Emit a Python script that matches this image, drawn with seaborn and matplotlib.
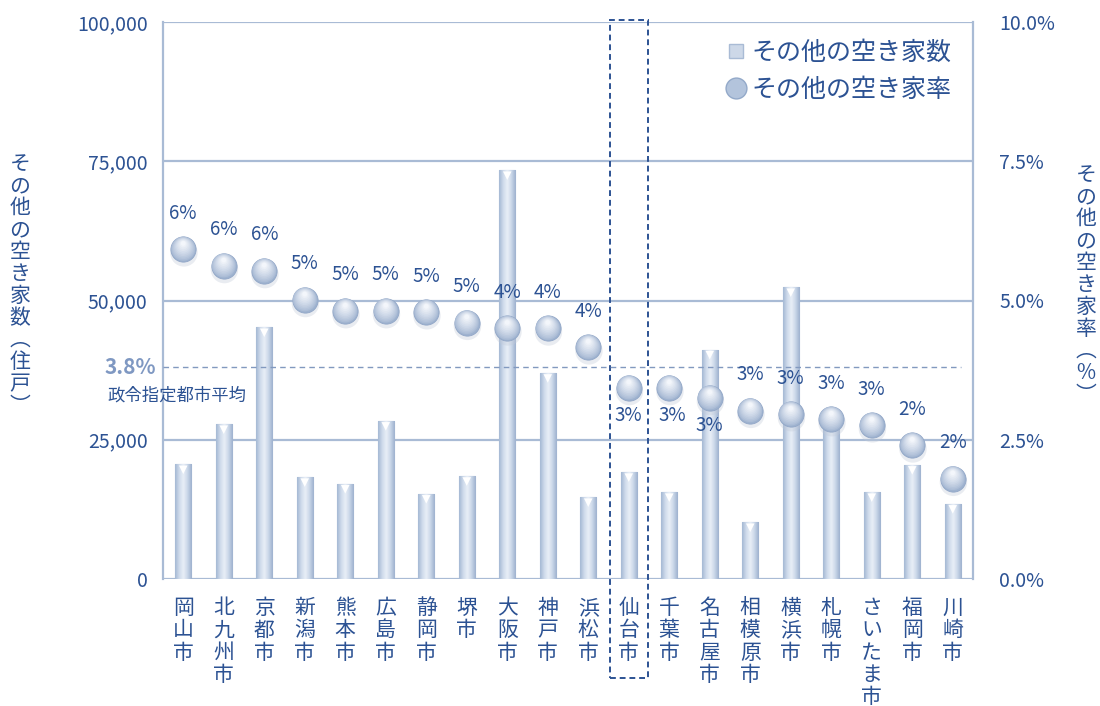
import numpy as np
import matplotlib
matplotlib.use("Agg")
import matplotlib.pyplot as plt
import seaborn as sns
from matplotlib.colors import LinearSegmentedColormap, to_rgb
from matplotlib.lines import Line2D
from matplotlib.patches import Rectangle
from matplotlib.transforms import ScaledTranslation, blended_transform_factory
from matplotlib.ticker import FuncFormatter, FixedLocator

# ---- data -----------------------------------------------------------------
cities = ["岡山市", "北九州市", "京都市", "新潟市", "熊本市", "広島市", "静岡市",
          "堺市", "大阪市", "神戸市", "浜松市", "仙台市", "千葉市", "名古屋市",
          "相模原市", "横浜市", "札幌市", "さいたま市", "福岡市", "川崎市"]
vacant_counts = [20600, 27800, 45200, 18300, 17100, 28400, 15300, 18500, 73400,
                 37000, 14700, 19200, 15600, 41200, 10200, 52400, 28000, 15600,
                 20500, 13500]
vacant_rates = [0.0592, 0.0562, 0.0553, 0.0501, 0.0481, 0.0481, 0.0479, 0.0460,
                0.0450, 0.0450, 0.0416, 0.0343, 0.0343, 0.0325, 0.0302, 0.0296,
                0.0287, 0.0276, 0.0240, 0.0180]
average_rate = 0.038
average_label = "政令指定都市平均"
highlight_city = "仙台市"
labels_below = ["仙台市", "千葉市", "名古屋市"]
count_ticks = [0, 25000, 50000, 75000, 100000]
rate_ticks = [0.0, 0.025, 0.05, 0.075, 0.10]
count_name = "その他の空き家数"
rate_name = "その他の空き家率"
left_axis_title = "その他の空き家数︵住戸︶"
right_axis_title = "その他の空き家率︵%︶"

# ---- style ----------------------------------------------------------------
sns.set_theme(style="white")
plt.rcParams["font.family"] = ["Noto Sans CJK JP", "DejaVu Sans"]
TEXT = "#2c5293"
GRID = "#a9bbd5"
BAR_EDGE = "#9cb0cc"

fig = plt.figure(figsize=(11, 7.06), dpi=100)
fig.patch.set_facecolor("white")
ax = fig.add_axes([163 / 1100, 127 / 706, 810 / 1100, 557 / 706])

positions = np.arange(len(cities))

# bars (counts, left axis)
sns.barplot(x=cities, y=vacant_counts, ax=ax, width=0.4, color="#bfcee3",
            saturation=1, edgecolor=BAR_EDGE, linewidth=0.8, zorder=2)

xlim = (-0.5, len(cities) - 0.5)
ylim = (0, 100000)

# cylinder-like shading inside every bar
bar_cmap = LinearSegmentedColormap.from_list(
    "cyl", ["#a4b8d4", "#cfdbeb", "#e9eff7", "#c9d6e8", "#9db1ce"])
grad = np.linspace(0, 1, 64).reshape(1, -1)
for patch in list(ax.patches):
    x0, y0 = patch.get_x(), patch.get_y()
    w, h = patch.get_width(), patch.get_height()
    im = ax.imshow(grad, cmap=bar_cmap, extent=(x0, x0 + w, y0, y0 + h),
                   aspect="auto", interpolation="bicubic", zorder=2.5)
    im.set_clip_path(patch)

# small white notch at each bar top
notch = ax.transData + ScaledTranslation(0, -4 / 72, fig.dpi_scale_trans)
ax.scatter(positions, vacant_counts, marker="v", s=38, color="white",
           edgecolors="none", transform=notch, zorder=3)

ax.set_xlim(xlim)
ax.set_ylim(ylim)

# horizontal grid + frame
for v in count_ticks:
    ax.axhline(v, color=GRID, lw=1.6, zorder=1)
for side in ["left", "right"]:
    ax.spines[side].set_color(GRID)
    ax.spines[side].set_linewidth(1.6)
for side in ["top", "bottom"]:
    ax.spines[side].set_visible(False)

ax.yaxis.set_major_locator(FixedLocator(count_ticks))
ax.yaxis.set_major_formatter(FuncFormatter(lambda v, _: f"{v:,.0f}"))
ax.tick_params(axis="y", length=0, pad=11, labelsize=14, labelcolor=TEXT)
ax.set_xticks(positions)
ax.set_xticklabels(["\n".join(c) for c in cities], fontsize=15, color=TEXT,
                   linespacing=1.02, va="top")
ax.tick_params(axis="x", length=0, pad=13)
ax.set_xlabel("")
ax.set_ylabel("")

# ---- rates on the right axis ---------------------------------------------
ax2 = ax.twinx()
ax2.set_ylim(0, 0.10)
ax2.yaxis.set_major_locator(FixedLocator(rate_ticks))
ax2.yaxis.set_major_formatter(FuncFormatter(lambda v, _: f"{v:.1%}"))
ax2.tick_params(axis="y", length=0, pad=19, labelsize=14, labelcolor=TEXT)
for side in ["top", "bottom", "left", "right"]:
    ax2.spines[side].set_visible(False)
ax2.grid(False)

# average line
ax2.axhline(average_rate, xmin=0, xmax=0.985, color="#8299bf", lw=1.0,
            ls=(0, (4, 3)), zorder=3)

def shifted(dx, dy):
    return ax2.transData + ScaledTranslation(dx / 72, dy / 72, fig.dpi_scale_trans)

# sphere markers: soft shadow, body, then a smooth stack of lighter discs
ax2.scatter(positions, vacant_rates, s=390, color="#c2cad8", alpha=0.35,
            edgecolors="none", transform=shifted(0.5, -2.6), zorder=4)
sns.scatterplot(x=positions, y=vacant_rates, ax=ax2, s=330, color="#9eb2cf",
                edgecolor="#92a7c7", linewidth=0.6, zorder=5, legend=False)
dark, light = np.array(to_rgb("#a2b5d1")), np.array(to_rgb("#f3f6fb"))
n_layers = 10
for k in range(1, n_layers + 1):
    t = k / n_layers
    ax2.scatter(positions, vacant_rates, s=330 * (1 - t) ** 1.4 + 12,
                color=dark + (light - dark) * t ** 0.9, edgecolors="none",
                transform=shifted(0, 4.2 * t), zorder=5 + k * 0.1)

# value labels
for x, city, r in zip(positions, cities, vacant_rates):
    if city in labels_below:
        off = (2 if city == "千葉市" else 0, -20)
    else:
        off = (0, 26)
    ax2.annotate(f"{r:.0%}", (x, r), xytext=off, textcoords="offset points",
                 ha="center", va="center", fontsize=13.5, color=TEXT, zorder=9)

# average annotation (left of plot area)
ax2.annotate(f"{average_rate:.1%}", (0, average_rate),
             xycoords=("axes fraction", "data"), xytext=(-42, 0),
             textcoords="offset points", ha="left", va="center",
             fontsize=15, fontweight="bold", color="#7f98c2",
             annotation_clip=False)
ax2.annotate(average_label, (0, average_rate),
             xycoords=("axes fraction", "data"), xytext=(-40, -20),
             textcoords="offset points", ha="left", va="center",
             fontsize=12.5, color=TEXT, annotation_clip=False)

# dashed frame around the highlighted city (spans into the tick labels)
hi = cities.index(highlight_city)
frame_tr = blended_transform_factory(ax.transData, ax.transAxes)
ax.add_patch(Rectangle((hi - 0.47, -0.178), 0.94, 1.182, transform=frame_tr,
                       fill=False, edgecolor=TEXT, lw=1.4, ls=(0, (3, 2)),
                       clip_on=False, zorder=10))

# axis titles written vertically
fig.text(20 / 1100, 1 - 285 / 706, "\n".join(left_axis_title), ha="center",
         va="center", fontsize=15, color=TEXT, linespacing=1.0)
fig.text(1086 / 1100, 1 - 285 / 706, "\n".join(right_axis_title), ha="center",
         va="center", fontsize=15, color=TEXT, linespacing=1.0)

# legend
handles = [
    Line2D([], [], ls="none", marker="s", markersize=10,
           markerfacecolor="#cdd8e8", markeredgecolor="#a9bbd5"),
    Line2D([], [], ls="none", marker="o", markersize=15,
           markerfacecolor="#b3c4dc", markeredgecolor="#93a9c9"),
]
leg = ax2.legend(handles, [count_name, rate_name], loc="upper right",
                 bbox_to_anchor=(0.995, 1.0), frameon=False, fontsize=18,
                 handletextpad=0.1, handlelength=1.0, labelspacing=0.45,
                 borderaxespad=0.3)
for t in leg.get_texts():
    t.set_color(TEXT)

fig.savefig("out.png", dpi=100, facecolor="white")
